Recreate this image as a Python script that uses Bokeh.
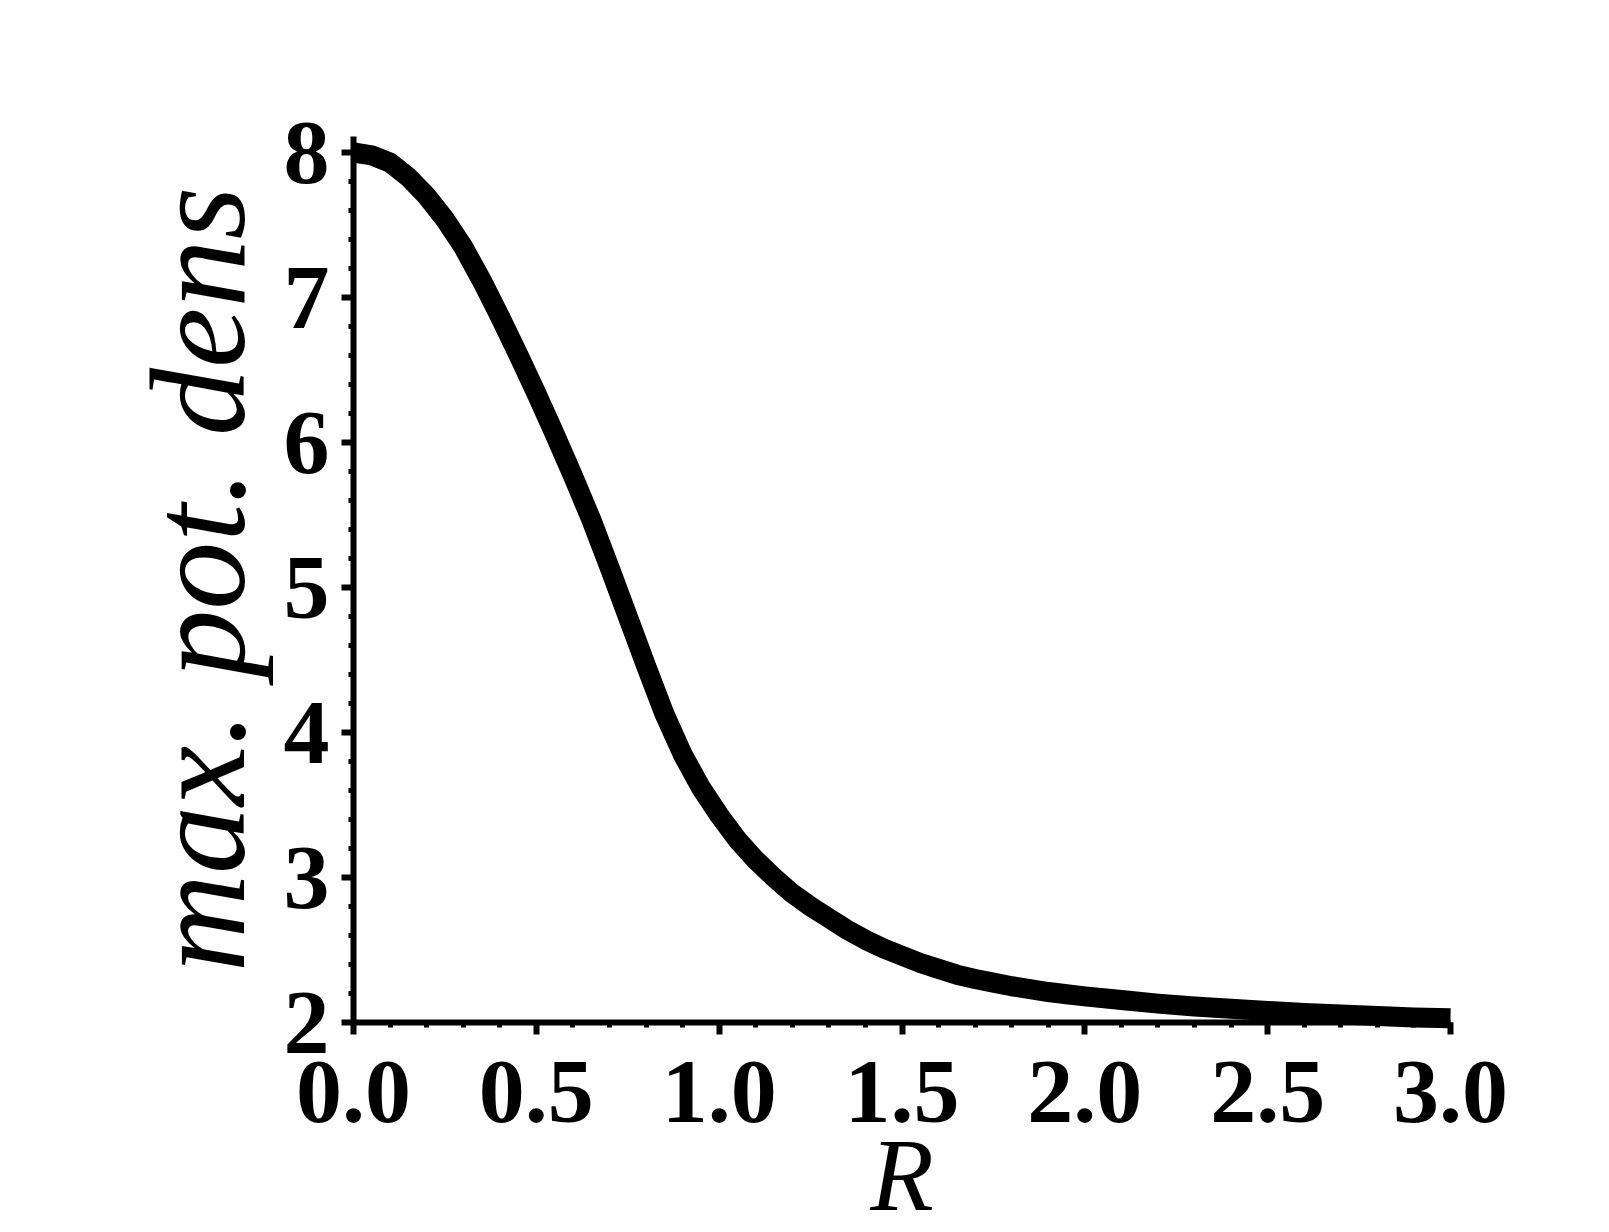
from bokeh.plotting import figure
from bokeh.models import Range1d, SingleIntervalTicker, NumeralTickFormatter
from bokeh.embed import file_html
from bokeh.resources import INLINE

R = [0.00, 0.05, 0.10, 0.15, 0.20, 0.25, 0.30, 0.35, 0.40, 0.45, 0.50,
     0.55, 0.60, 0.65, 0.70, 0.75, 0.80, 0.85, 0.90, 0.95, 1.00, 1.05,
     1.10, 1.15, 1.20, 1.25, 1.30, 1.35, 1.40, 1.45, 1.50, 1.55, 1.60,
     1.65, 1.70, 1.75, 1.80, 1.85, 1.90, 1.95, 2.00, 2.10, 2.20, 2.30,
     2.40, 2.50, 2.60, 2.70, 2.80, 2.90, 3.00]
max_pot_dens = [8.00, 7.98, 7.93, 7.83, 7.70, 7.54, 7.35, 7.12, 6.87, 6.61, 6.34,
                6.06, 5.77, 5.47, 5.14, 4.80, 4.46, 4.13, 3.85, 3.62, 3.43, 3.26,
                3.12, 3.00, 2.89, 2.80, 2.72, 2.64, 2.57, 2.51, 2.46, 2.41, 2.37,
                2.33, 2.30, 2.275, 2.25, 2.23, 2.21, 2.195, 2.18, 2.155, 2.13, 2.11,
                2.095, 2.08, 2.065, 2.055, 2.045, 2.035, 2.03]

x_label = "R"
y_label = "max. pot. dens"
x_bounds = (0, 3)
y_bounds = (2, 8.11)

W, H = 1609, 1232
# frame covers the whole canvas; axes sit at fixed data locations
px_per_x = 1097 / 3.0
px_per_y = 870 / 6.0
x_rng = Range1d(-353 / px_per_x, 3 + (W - 1450) / px_per_x)
y_rng = Range1d(2 - (H - 1022) / px_per_y, 8 + 152 / px_per_y)

p = figure(width=W, height=H, output_backend="svg", toolbar_location=None,
           x_range=x_rng, y_range=y_rng, min_border=0)
p.outline_line_color = None
p.grid.visible = False
p.background_fill_color = "white"
p.border_fill_color = "white"

p.line(R, max_pot_dens, line_width=20, line_color="black", line_join="round")

p.xaxis.fixed_location = 2
p.yaxis.fixed_location = 0
p.xaxis.bounds = x_bounds
p.yaxis.bounds = y_bounds
p.xaxis.ticker = SingleIntervalTicker(interval=0.5, num_minor_ticks=5)
p.yaxis.ticker = SingleIntervalTicker(interval=1, num_minor_ticks=5)
p.xaxis.formatter = NumeralTickFormatter(format="0.0")
p.yaxis.formatter = NumeralTickFormatter(format="0")

for ax in (p.xaxis, p.yaxis):
    ax.axis_line_width = 6
    ax.axis_line_color = "black"
    ax.major_tick_line_width = 6
    ax.minor_tick_line_width = 5
    ax.major_tick_in = 0
    ax.major_tick_out = 12
    ax.minor_tick_in = 0
    ax.minor_tick_out = 5
    ax.major_label_text_font = "Liberation Serif"
    ax.major_label_text_font_style = "bold"
    ax.major_label_text_font_size = "92px"
    ax.major_label_text_color = "black"
    ax.axis_label_text_font = "Liberation Serif"
    ax.axis_label_text_font_style = "italic"
    ax.axis_label_text_color = "black"

p.xaxis.axis_label = x_label
p.yaxis.axis_label = y_label
p.xaxis.axis_label_text_font_size = "104px"
p.yaxis.axis_label_text_font_size = "136px"
p.xaxis.major_label_standoff = 27
p.yaxis.major_label_standoff = 12
p.xaxis.axis_label_standoff = -8
p.yaxis.axis_label_standoff = 8

open("out.html", "w").write(file_html(p, INLINE))
